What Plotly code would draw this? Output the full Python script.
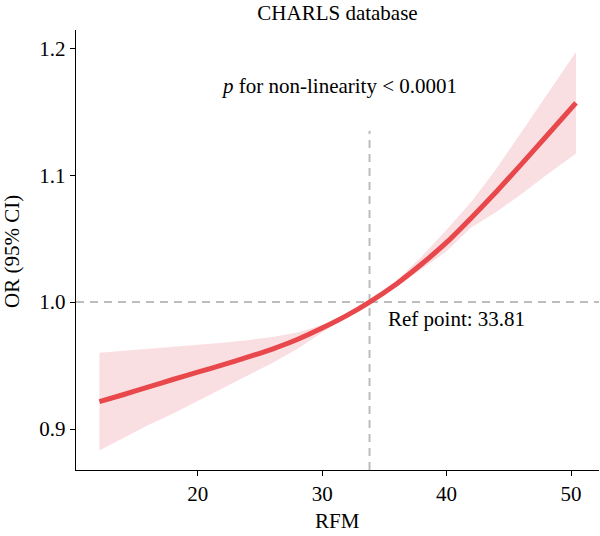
import plotly.graph_objects as go

# ---- data ----
rfm = [12.1, 14, 16, 18, 20, 22, 24, 26, 28, 30, 32, 33.81, 36, 38, 40, 42, 44, 46, 48, 50.4]
odds_ratio = [0.9215, 0.927, 0.933, 0.939, 0.9448, 0.9505, 0.9566, 0.9630, 0.9705, 0.9795, 0.9895, 1.000,
              1.0145, 1.030, 1.047, 1.0665, 1.087, 1.1085, 1.1305, 1.157]
ci_upper = [0.960, 0.9615, 0.963, 0.9645, 0.966, 0.968, 0.970, 0.9725, 0.976, 0.982, 0.991, 1.000,
            1.017, 1.036, 1.057, 1.079, 1.105, 1.134, 1.163, 1.197]
ci_lower = [0.883, 0.893, 0.903, 0.912, 0.922, 0.932, 0.942, 0.952, 0.963, 0.976, 0.988, 1.000,
            1.012, 1.026, 1.040, 1.059, 1.071, 1.085, 1.100, 1.117]
ref_point = 33.81
ref_or = 1.0
x_ticks = [20, 30, 40, 50]
y_ticks = [0.9, 1.0, 1.1, 1.2]
y_ticklabels = ["0.9", "1.0", "1.1", "1.2"]
x_range = [10.22, 52.25]
y_range = [0.8677, 1.2144]
vline_top = 1.135

FONT = "Liberation Serif"
RED = "#e8474b"
BAND = "rgba(242,170,178,0.38)"
GREY = "#bdbdbd"
FS = 21

fig = go.Figure()

# CI band
fig.add_trace(go.Scatter(x=rfm, y=ci_lower, mode="lines", line=dict(width=0),
                         hoverinfo="skip", showlegend=False))
fig.add_trace(go.Scatter(x=rfm, y=ci_upper, mode="lines", line=dict(width=0),
                         fill="tonexty", fillcolor=BAND, hoverinfo="skip", showlegend=False))

# reference lines
fig.add_trace(go.Scatter(x=x_range, y=[ref_or, ref_or], mode="lines",
                         line=dict(color=GREY, width=2, dash="8px,6px"), showlegend=False))
fig.add_trace(go.Scatter(x=[ref_point, ref_point], y=[y_range[0], vline_top], mode="lines",
                         line=dict(color=GREY, width=2, dash="8px,6px"), showlegend=False))

# OR curve
fig.add_trace(go.Scatter(x=rfm, y=odds_ratio, mode="lines",
                         line=dict(color=RED, width=5, shape="spline", smoothing=0.5),
                         showlegend=False))

axis_common = dict(showline=True, linecolor="black", linewidth=1.4, ticks="outside",
                   ticklen=5, tickwidth=1.3, tickcolor="black", showgrid=False, zeroline=False,
                   tickfont=dict(family=FONT, size=FS, color="black"), mirror=False)

fig.update_layout(
    width=600, height=536,
    margin=dict(l=76, r=1, t=30, b=66),
    paper_bgcolor="white", plot_bgcolor="white",
    title=dict(text="CHARLS database", x=0.5, xref="paper", xanchor="center",
               y=1 - 13 / 536, yanchor="middle", yref="container",
               font=dict(family=FONT, size=FS, color="black")),
    xaxis=dict(range=x_range, tickvals=x_ticks, **axis_common),
    yaxis=dict(range=y_range, tickvals=y_ticks, ticktext=y_ticklabels, **axis_common),
    annotations=[
        dict(text="<i>p</i> for non-linearity &lt; 0.0001", xref="paper", yref="paper",
             x=0.503, y=0.873, xanchor="center", yanchor="middle", showarrow=False,
             font=dict(family=FONT, size=FS, color="black")),
        dict(text=f"Ref point: {ref_point:.2f}", xref="x", yref="y",
             x=ref_point + 1.3, y=0.987, xanchor="left", yanchor="middle", showarrow=False,
             font=dict(family=FONT, size=FS, color="black")),
        dict(text="RFM", xref="paper", yref="paper", x=0.5, y=-0.115,
             xanchor="center", yanchor="middle", showarrow=False,
             font=dict(family=FONT, size=FS, color="black")),
        dict(text="OR (95% CI)", xref="paper", yref="paper", x=-0.122, y=0.496,
             xanchor="center", yanchor="middle", textangle=-90, showarrow=False,
             font=dict(family=FONT, size=FS, color="black")),
    ],
)

fig.write_html("out.html")
